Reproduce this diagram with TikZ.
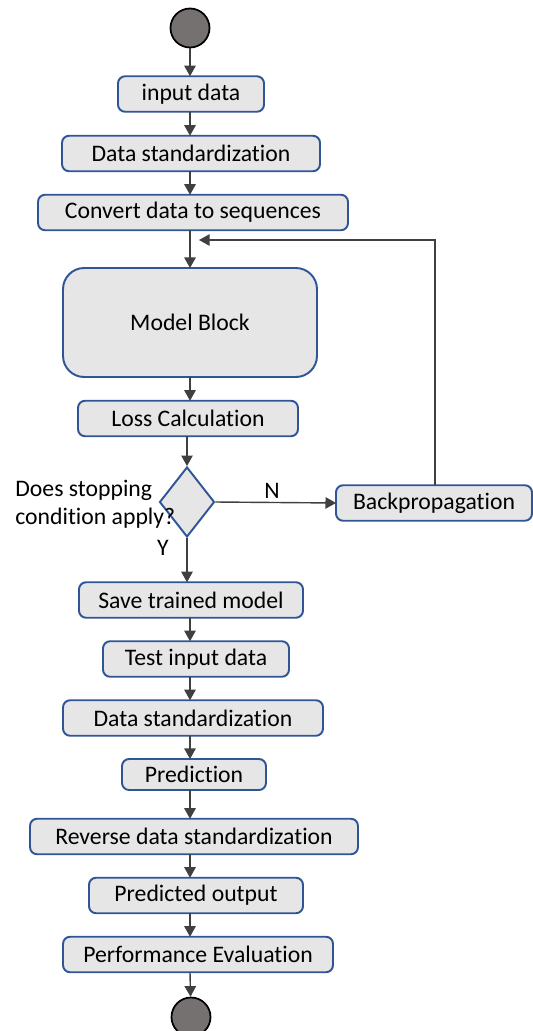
\documentclass[tikz,border=0pt]{standalone}
\usepackage{fontspec}
\setmainfont{Carlito}[Ligatures={NoCommon}]
\usetikzlibrary{shapes.geometric,arrows.meta}
\definecolor{boxblue}{RGB}{47,85,151}
\definecolor{boxgray}{RGB}{231,230,230}
\definecolor{dotgray}{RGB}{118,113,113}
\definecolor{linegray}{RGB}{64,64,64}

\begin{document}
\begin{tikzpicture}[x=0.02cm,y=-0.02cm,
    font=\fontsize{13.5}{16}\selectfont,
    box/.style={draw=boxblue,fill=boxgray,line width=1.1pt,rounded corners=4pt,
      inner sep=0pt,outer sep=0pt,minimum height=0.71cm},
    dot/.style={circle,draw=black,fill=dotgray,line width=1pt,minimum size=0.78cm,inner sep=0pt},
    flow/.style={draw=linegray,line width=0.8pt,-{Triangle[length=6pt,width=6.5pt]}}]
    \useasboundingbox (0,0) rectangle (533,1031);
    % Def nodes
    \node[dot] (start) at (190,28) {};
    \node[box,minimum width=2.92cm] (input) at (191,94) {input data};
    \node[box,minimum width=5.16cm] (std) at (191,153.5) {Data standardization};
    \node[box,minimum width=6.2cm] (conv) at (193,212.5) {Convert data to sequences};
    \node[box,minimum width=5.08cm,minimum height=2.18cm,rounded corners=12pt] (model) at (190,322.5) {Model Block};
    \node[box,minimum width=4.4cm] (loss) at (188,418.5) {Loss Calculation};
    \node[diamond,draw=boxblue,fill=boxgray,line width=1.1pt,inner sep=0pt,
      minimum width=1.1cm,minimum height=1.4cm] (stop) at (187,502) {};
    \node[box,minimum width=3.92cm] (back) at (434,503) {Backpropagation};
    \node[box,minimum width=4.48cm] (save) at (191,600) {Save trained model};
    \node[box,minimum width=3.72cm] (test) at (196,659) {Test input data};
    \node[box,minimum width=5.2cm] (stdb) at (193,718) {Data standardization};
    \node[box,minimum width=2.88cm,minimum height=0.62cm] (pred) at (194,774.5) {Prediction};
    \node[box,minimum width=6.56cm] (rev) at (194,836.5) {Reverse data standardization};
    \node[box,minimum width=4.28cm] (out) at (196,895.5) {Predicted output};
    \node[box,minimum width=5.4cm] (perf) at (198,954.5) {Performance Evaluation};
    \node[dot] (stopdot) at (191,1017) {};
    \coordinate (fbtop) at (435,240);
    \coordinate (fbend) at (199,240);
    % Draw arrows
    \draw[flow] (start) -- (start |- input.north);
    \draw[flow] (start |- input.south) -- (start |- std.north);
    \draw[flow] (start |- std.south) -- (start |- conv.north);
    \draw[flow] (start |- conv.south) -- (start |- model.north);
    \draw[flow] (start |- model.south) -- (start |- loss.north);
    \draw[flow] (stop |- loss.south) -- (stop.north);
    \draw[flow] (stop.east) -- (back.west);
    \draw[flow] (back.north -| fbtop) -- (fbtop) -- (fbend);
    \draw[flow] (stop.south) -- (stop |- save.north);
    \draw[flow] (start |- save.south) -- (start |- test.north);
    \draw[flow] (start |- test.south) -- (start |- stdb.north);
    \draw[flow] (start |- stdb.south) -- (start |- pred.north);
    \draw[flow] (start |- pred.south) -- (start |- rev.north);
    \draw[flow] (start |- rev.south) -- (start |- out.north);
    \draw[flow] (start |- out.south) -- (start |- perf.north);
    \draw[flow] (start |- perf.south) -- (stopdot);
    % Labels
    \node[anchor=west,align=left,inner sep=0pt] (ask) at (15,504) {Does stopping\\condition apply?};
    \node (no) at (272,491) {N};
    \node (yes) at (163,548) {Y};
\end{tikzpicture}
\end{document}
